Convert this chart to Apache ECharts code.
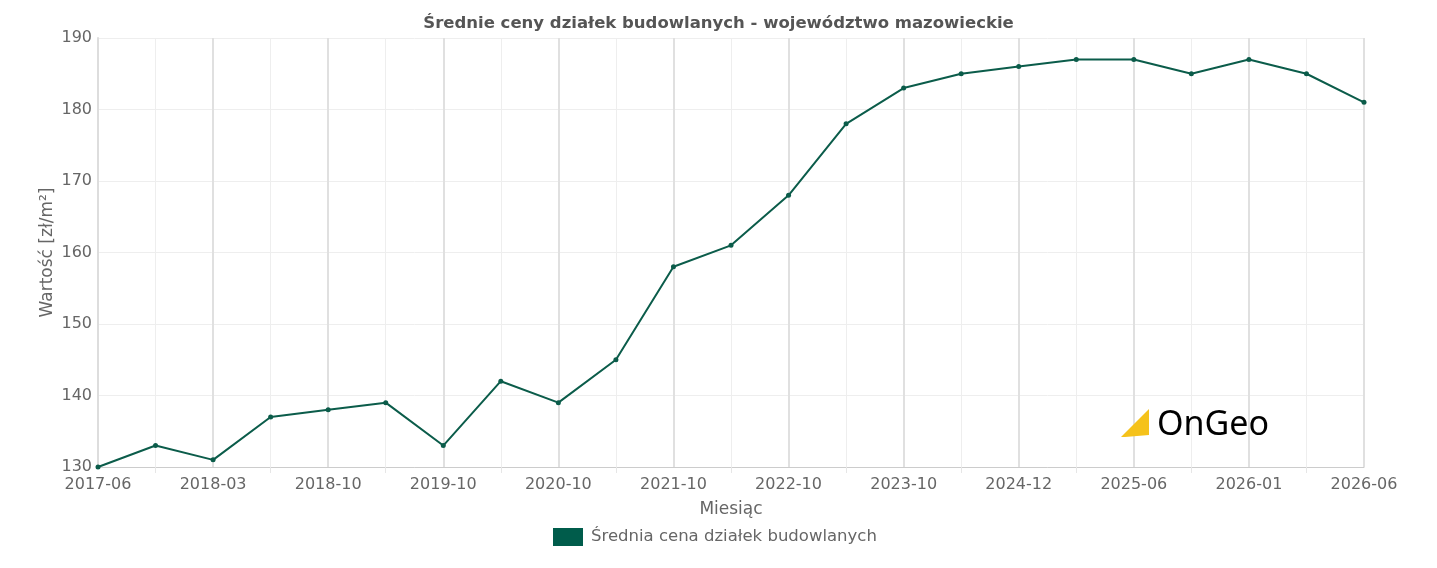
<!DOCTYPE html>
<html>
<head>
<meta charset="utf-8">
<script src="https://cdn.jsdelivr.net/npm/echarts@6/dist/echarts.min.js"></script>
<style>
  html, body { margin: 0; padding: 0; background: #fff; }
  #chart { width: 1437px; height: 568px; }
</style>
</head>
<body>
<div id="chart"></div>
<script>
const months = [
  '2017-06', '2017-10', '2018-03', '2018-06', '2018-10', '2019-03',
  '2019-10', '2020-03', '2020-10', '2021-03', '2021-10', '2022-03',
  '2022-10', '2023-03', '2023-10', '2024-03', '2024-12', '2025-03',
  '2025-06', '2025-09', '2026-01', '2026-03', '2026-06'
];
const prices = [
  130, 133, 131, 137, 138, 139,
  133, 142, 139, 145, 158, 161,
  168, 178, 183, 185, 186, 187,
  187, 185, 187, 185, 181
];
const seriesName = 'Średnia cena działek budowlanych';
const chartTitle = 'Średnie ceny działek budowlanych - województwo mazowieckie';

const font = 'DejaVu Sans';
const lineColor = '#0b5c4a';

const chart = echarts.init(document.getElementById('chart'));

const opts = {
  animation: false,
  textStyle: { fontFamily: font },
  title: {
    text: chartTitle,
    left: 'center',
    top: 10,
    textStyle: { fontFamily: font, fontSize: 16.5, fontWeight: 'bold', color: '#555' },
  },
  grid: { left: 98, right: 73, top: 38, bottom: 101, containLabel: false },
  legend: {
    bottom: 17,
    left: 548,
    itemWidth: 30,
    itemHeight: 18,
    itemGap: 10,
    icon: 'rect',
    textStyle: { fontFamily: font, fontSize: 16.5, color: '#666', padding: [0, 0, 0, 3] },
    data: [{ name: seriesName, itemStyle: { color: '#005c4b' } }],
  },
  xAxis: [
    {
      type: 'category',
      data: months,
      boundaryGap: false,
      name: 'Miesiąc',
      nameLocation: 'middle',
      nameGap: 34,
      nameTextStyle: { fontFamily: font, fontSize: 17, color: '#666' },
      axisLine: { lineStyle: { color: '#ccc', width: 1 } },
      axisTick: {
        show: true,
        length: 6,
        interval: (i) => i % 2 === 1,
        lineStyle: { color: '#e6e6e6' },
      },
      axisLabel: { interval: 1, fontFamily: font, fontSize: 16, color: '#666', margin: 10 },
      splitLine: { show: true, interval: 0, lineStyle: { color: '#eee', width: 1 } },
    },
    {
      type: 'category',
      data: months,
      boundaryGap: false,
      position: 'bottom',
      axisLine: { show: false },
      axisTick: { show: false },
      axisLabel: { show: false },
      splitLine: { show: true, interval: 1, lineStyle: { color: '#e0e0e0', width: 2 } },
    },
  ],
  yAxis: {
    type: 'value',
    min: 130,
    max: 190,
    interval: 10,
    name: 'Wartość [zł/m²]',
    nameLocation: 'middle',
    nameGap: 42,
    nameMoveOverlap: false,
    nameTextStyle: { fontFamily: font, fontSize: 17, color: '#666' },
    axisLine: { show: true, lineStyle: { color: '#ddd', width: 2 } },
    axisTick: { show: false },
    axisLabel: { fontFamily: font, fontSize: 16, color: '#666', margin: 6 },
    splitLine: { lineStyle: { color: '#eee' } },
  },
  graphic: [
    {
      type: 'polygon',
      left: 1121,
      top: 409,
      shape: { points: [[0, 28], [28, 0], [28, 26], [4, 28]] },
      style: { fill: '#f5c21b' },
      z: 10,
    },
    {
      type: 'text',
      left: 1157,
      top: 408,
      style: { text: 'OnGeo', font: '34px "Noto Sans"', fill: '#000' },
      z: 10,
    },
  ],
  series: [
    {
      name: seriesName,
      type: 'line',
      data: prices,
      symbol: 'circle',
      symbolSize: 5,
      lineStyle: { color: lineColor, width: 2 },
      itemStyle: { color: lineColor },
    },
  ],
};

chart.setOption(opts);
</script>
</body>
</html>
